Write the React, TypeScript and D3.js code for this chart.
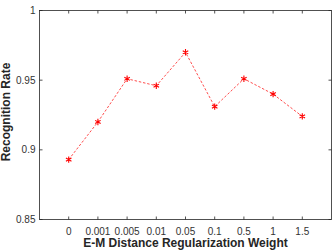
import React from "react";
import * as d3 from "d3";

const categories = ["0", "0.001", "0.005", "0.01", "0.05", "0.1", "0.5", "1", "1.5"];
const recognitionRate = [0.893, 0.92, 0.951, 0.946, 0.97, 0.931, 0.951, 0.94, 0.924];
const yTicks = [0.85, 0.9, 0.95, 1];

const W = 333;
const H = 250;
const left = 39.5;
const right = 331.5;
const top = 10.5;
const bottom = 219.5;

const font = "'Liberation Sans', Arial, Helvetica, sans-serif";
const axisColor = "#262626";
const textColor = "#333333";

export default function App() {
  const x = d3.scaleLinear().domain([0, categories.length + 1]).range([left, right]);
  const y = d3.scaleLinear().domain([0.85, 1]).range([bottom, top]);

  const pts = recognitionRate.map((v, i) => [x(i + 1), y(v)] as [number, number]);
  const line = d3.line()(pts) || "";
  const star = d3.symbol().type(d3.symbolAsterisk).size(28)() || "";

  return (
    <svg
      width={W}
      height={H}
      style={{ position: "absolute", left: 0, top: 0, background: "#fff" }}
      fontFamily={font}
    >
      <rect x={0} y={0} width={W} height={H} fill="#fff" />
      {/* MATLAB-style boxed axes */}
      <rect x={left} y={top} width={right - left} height={bottom - top} fill="none" stroke={axisColor} strokeWidth={0.8} />

      {/* x ticks on bottom and top */}
      {categories.map((c, i) => (
        <g key={c}>
          <line x1={x(i + 1)} x2={x(i + 1)} y1={bottom} y2={bottom - 3} stroke={axisColor} strokeWidth={0.8} />
          <line x1={x(i + 1)} x2={x(i + 1)} y1={top} y2={top + 3} stroke={axisColor} strokeWidth={0.8} />
          <text x={x(i + 1)} y={234.5} fontSize={10} textAnchor="middle" fill={textColor}>
            {c}
          </text>
        </g>
      ))}

      {/* y ticks on left and right */}
      {yTicks.map((t) => (
        <g key={t}>
          <line x1={left} x2={left + 3} y1={y(t)} y2={y(t)} stroke={axisColor} strokeWidth={0.8} />
          <line x1={right} x2={right - 3} y1={y(t)} y2={y(t)} stroke={axisColor} strokeWidth={0.8} />
          <text x={left - 4} y={y(t) + 3.6} fontSize={10} textAnchor="end" fill={textColor}>
            {String(t)}
          </text>
        </g>
      ))}

      <path d={line} fill="none" stroke="#ff0000" strokeWidth={0.7} strokeDasharray="2.5,1.8" />
      {pts.map(([px, py], i) => (
        <path key={i} d={star} transform={`translate(${px},${py})`} fill="none" stroke="#ff0000" strokeWidth={1.1} />
      ))}

      <text
        x={(left + right) / 2}
        y={247}
        fontSize={12}
        fontWeight="bold"
        textAnchor="middle"
        fill={axisColor}
      >
        E-M Distance Regularization Weight
      </text>
      <text
        transform={`translate(10,112) rotate(-90)`}
        fontSize={12}
        fontWeight="bold"
        textAnchor="middle"
        fill={axisColor}
      >
        Recognition Rate
      </text>
    </svg>
  );
}
